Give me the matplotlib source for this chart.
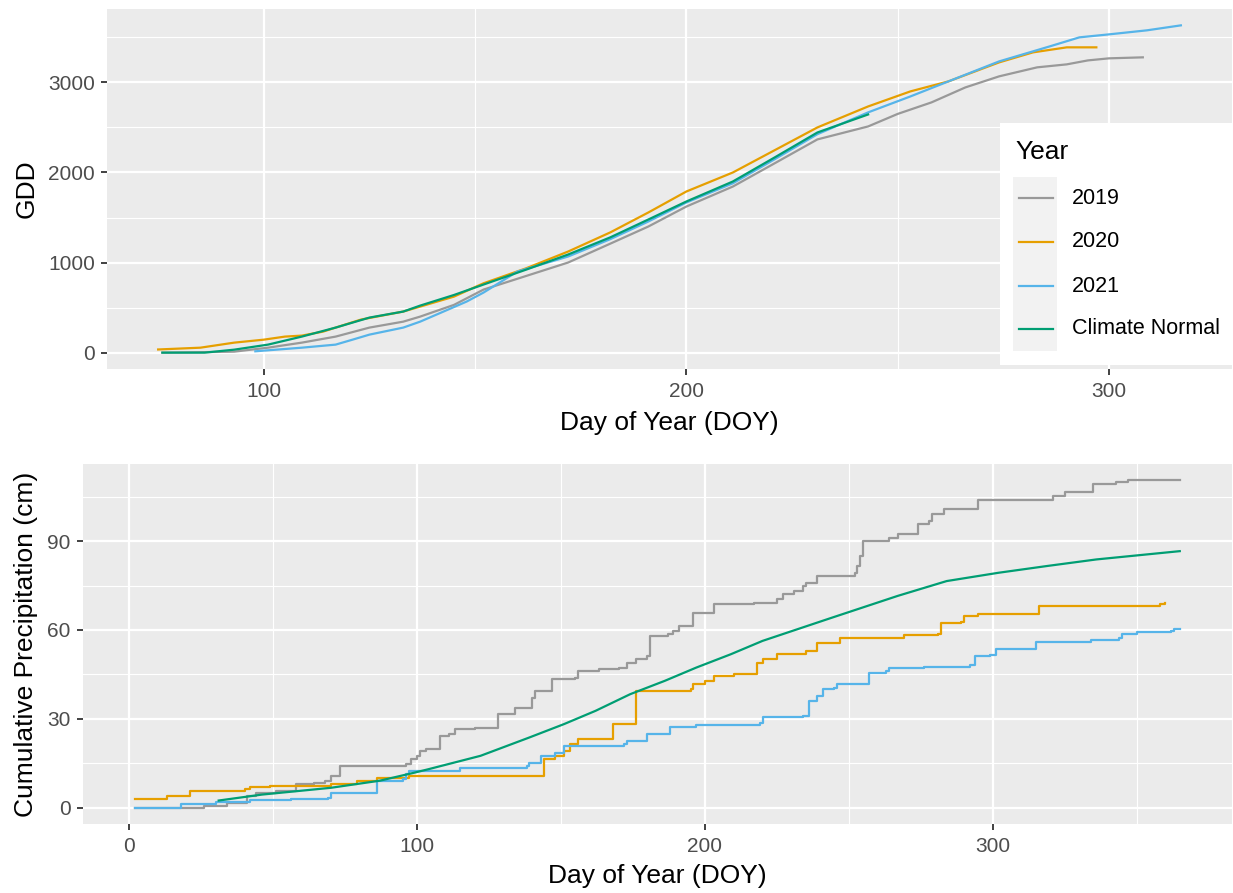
import matplotlib
matplotlib.use("Agg")
import matplotlib.pyplot as plt
from matplotlib.lines import Line2D
from matplotlib.patches import Rectangle

plt.rcParams["font.family"] = ["Liberation Sans", "DejaVu Sans"]

SERIES = ["2019", "2020", "2021", "Climate Normal"]
COLORS = {"2019": "#999999", "2020": "#E69F00", "2021": "#56B4E9",
          "Climate Normal": "#009E73"}

# growing degree days, sampled from the daily series
gdd_doy_2019 = [76, 85, 93, 101, 109, 117, 125, 133, 137, 145, 152, 162, 172,
                182, 191, 200, 211, 221, 231, 243, 250, 258, 266, 274, 283,
                290, 295, 300, 308]
gdd_2019 = [0, 5, 11, 55, 111, 178, 278, 344, 400, 530, 700, 850, 1000, 1210,
            1400, 1622, 1844, 2105, 2367, 2511, 2650, 2778, 2944, 3067, 3167,
            3200, 3244, 3267, 3278]

gdd_doy_2020 = [75, 85, 93, 100, 105, 109, 114, 117, 123, 133, 137, 145, 152,
                162, 172, 182, 191, 200, 211, 221, 231, 243, 253, 262, 274,
                282, 290, 297]
gdd_2020 = [35, 55, 111, 144, 178, 189, 233, 278, 367, 456, 511, 622, 770,
            935, 1122, 1335, 1556, 1789, 2000, 2250, 2500, 2733, 2900, 3011,
            3222, 3333, 3389, 3389]

gdd_doy_2021 = [98, 109, 117, 121, 125, 133, 137, 148, 152, 160, 172, 182, 191,
                200, 211, 221, 231, 243, 253, 262, 274, 286, 293, 300, 309,
                317]
gdd_2021 = [15, 55, 89, 144, 200, 278, 344, 567, 667, 900, 1067, 1260, 1456,
            1667, 1880, 2150, 2425, 2667, 2844, 3011, 3233, 3400, 3500, 3533,
            3578, 3633]

gdd_doy_normal = [76, 86, 93, 101, 109, 117, 125, 133, 137, 145, 152, 162, 172,
                  182, 191, 200, 211, 221, 231, 243]
gdd_normal = [0, 0, 33, 89, 178, 278, 389, 456, 522, 640, 756, 920, 1089, 1280,
              1478, 1678, 1900, 2170, 2444, 2644]

# cumulative precipitation (cm); yearly series are change points of a step curve
pr_doy_2019 = [2, 26, 34, 41, 44, 51, 58, 64, 68, 70, 73, 96, 98, 100, 101,
               103, 108, 111, 113, 120, 128, 134, 140, 141, 147, 155, 156, 163,
               170, 173, 176, 180, 181, 187, 189, 191, 196, 203, 217, 225, 227,
               231, 234, 235, 239, 252, 253, 254, 255, 264, 267, 274, 278, 279,
               283, 295, 321, 325, 335, 343, 347, 365]
pr_2019 = [0, 0.7, 1.7, 4.0, 5.1, 5.7, 8.1, 8.4, 9.1, 10.8, 14.2, 14.8, 16.5,
           17.5, 19.2, 19.9, 24.3, 24.9, 26.6, 27.0, 31.7, 33.7, 37.1, 39.4,
           43.5, 43.8, 46.2, 46.8, 47.2, 48.9, 50.2, 51.2, 58.0, 58.6, 59.7,
           61.3, 65.7, 68.8, 69.1, 70.4, 72.1, 73.1, 74.8, 75.8, 78.2, 79.2,
           81.6, 85.0, 90.0, 91.0, 92.3, 95.7, 96.7, 99.1, 100.8, 103.8, 105.2,
           106.5, 109.2, 109.9, 110.5, 110.5]

pr_doy_2020 = [2, 13, 21, 40, 42, 49, 70, 79, 86, 97, 144, 148, 151, 153, 156,
               168, 176, 195, 196, 200, 203, 210, 218, 220, 225, 235, 239, 247,
               269, 281, 282, 289, 290, 295, 316, 358, 360]
pr_2020 = [3.0, 4.0, 5.7, 6.4, 6.9, 7.4, 8.1, 9.1, 10.1, 10.8, 16.5, 17.5, 19.2,
           21.6, 23.3, 28.3, 39.4, 40.1, 41.8, 42.8, 44.5, 45.2, 48.9, 50.2,
           51.9, 52.9, 55.6, 57.3, 58.3, 58.6, 62.4, 62.7, 64.7, 65.4, 68.1,
           68.8, 69.1]

pr_doy_2021 = [2, 18, 30, 42, 56, 69, 70, 86, 95, 96, 97, 115, 138, 139, 143,
               148, 151, 172, 173, 180, 188, 197, 219, 220, 234, 236, 239, 241,
               245, 246, 257, 263, 264, 276, 292, 294, 299, 301, 315, 334, 344,
               345, 350, 362, 363, 365]
pr_2021 = [0, 1.3, 2.0, 2.7, 3.0, 3.4, 5.1, 9.1, 9.8, 11.5, 12.5, 13.5, 14.2,
           15.2, 17.5, 18.5, 20.9, 21.6, 22.6, 24.9, 27.3, 28.0, 28.6, 30.7,
           31.0, 36.0, 37.7, 40.1, 40.4, 41.8, 45.5, 46.2, 47.2, 47.5, 48.2,
           51.2, 51.6, 53.6, 55.9, 56.6, 57.3, 58.6, 59.3, 59.7, 60.3, 60.3]

pr_doy_normal = [31, 46, 70, 87, 99, 104, 122, 139, 151, 162, 174, 186, 197,
                 209, 220, 232, 244, 267, 284, 302, 319, 336, 365]
pr_normal = [2.4, 4.4, 6.7, 9.1, 11.8, 13.0, 17.5, 23.7, 28.2, 32.7, 38.3,
             42.8, 47.3, 51.8, 56.3, 60.2, 64.1, 71.5, 76.5, 79.3, 81.6, 83.8,
             86.6]

gdd_data = {
    "2019": (gdd_doy_2019, gdd_2019),
    "2020": (gdd_doy_2020, gdd_2020),
    "2021": (gdd_doy_2021, gdd_2021),
    "Climate Normal": (gdd_doy_normal, gdd_normal),
}
pr_data = {
    "2019": (pr_doy_2019, pr_2019),
    "2020": (pr_doy_2020, pr_2020),
    "2021": (pr_doy_2021, pr_2021),
    "Climate Normal": (pr_doy_normal, pr_normal),
}

W, H = 1233, 893
TICK_FS = 15
KEY_FS = 15.5
TITLE_FS = 19
LW = 1.6


def gg_axes(ax, xmajor, xminor, ymajor, yminor):
    ax.set_facecolor("#EBEBEB")
    for s in ax.spines.values():
        s.set_visible(False)
    ax.set_xticks(xmajor)
    ax.set_xticks(xminor, minor=True)
    ax.set_yticks(ymajor)
    ax.set_yticks(yminor, minor=True)
    ax.grid(which="major", color="white", linewidth=1.6)
    ax.grid(which="minor", color="white", linewidth=0.8)
    ax.set_axisbelow(True)
    ax.tick_params(which="minor", length=0)
    ax.tick_params(which="major", length=4.3, width=1.3, color="#333333",
                   labelsize=TICK_FS, labelcolor="#4D4D4D")
    ax.tick_params(axis="x", pad=5)
    ax.tick_params(axis="y", pad=4.5)
    ax.margins(x=0.05, y=0.05)


fig = plt.figure(figsize=(W / 100, H / 100), dpi=100)

ax1 = fig.add_axes([107 / W, 1 - 369 / H, (1232 - 107) / W, 360 / H])
for name in SERIES:
    x, y = gdd_data[name]
    ax1.plot(x, y, color=COLORS[name], lw=LW)
gg_axes(ax1, [100, 200, 300], [150, 250], [0, 1000, 2000, 3000],
        [500, 1500, 2500, 3500])
ax1.set_xlabel("Day of Year (DOY)", fontsize=TITLE_FS, labelpad=7)
ax1.set_ylabel("GDD", fontsize=TITLE_FS, labelpad=7)

ax2 = fig.add_axes([83 / W, 1 - 824 / H, (1232 - 83) / W, 360 / H])
for name in SERIES:
    x, y = pr_data[name]
    style = "default" if name == "Climate Normal" else "steps-post"
    ax2.plot(x, y, color=COLORS[name], lw=LW, drawstyle=style)
gg_axes(ax2, [0, 100, 200, 300], [50, 150, 250, 350], [0, 30, 60, 90],
        [15, 45, 75, 105])
ax2.set_xlabel("Day of Year (DOY)", fontsize=TITLE_FS, labelpad=6)
ax2.set_ylabel("Cumulative Precipitation (cm)", fontsize=TITLE_FS, labelpad=7)


# legend box inside the top panel, ggplot style
def fx(px):
    return px / W


def fy(py):
    return 1 - py / H


fig.patches.append(Rectangle((fx(1000), fy(365)), fx(1233) - fx(1000),
                             fy(123) - fy(365), transform=fig.transFigure,
                             facecolor="white", edgecolor="none", zorder=3))
fig.patches.append(Rectangle((fx(1013), fy(351)), fx(1057) - fx(1013),
                             fy(177) - fy(351), transform=fig.transFigure,
                             facecolor="#F2F2F2", edgecolor="none", zorder=4))
fig.text(fx(1015), fy(152), "Year", fontsize=TITLE_FS, va="center",
         ha="left", color="black", zorder=5)
key_rows = [198, 242, 286, 329]
for name, row in zip(SERIES, key_rows):
    fig.add_artist(Line2D([fx(1019), fx(1053)], [fy(row), fy(row)],
                          transform=fig.transFigure, color=COLORS[name],
                          lw=LW, zorder=5))
    fig.text(fx(1072), fy(row), name, fontsize=KEY_FS, va="center",
             ha="left", color="black", zorder=5)

fig.savefig("out.png", dpi=100, facecolor="white")
